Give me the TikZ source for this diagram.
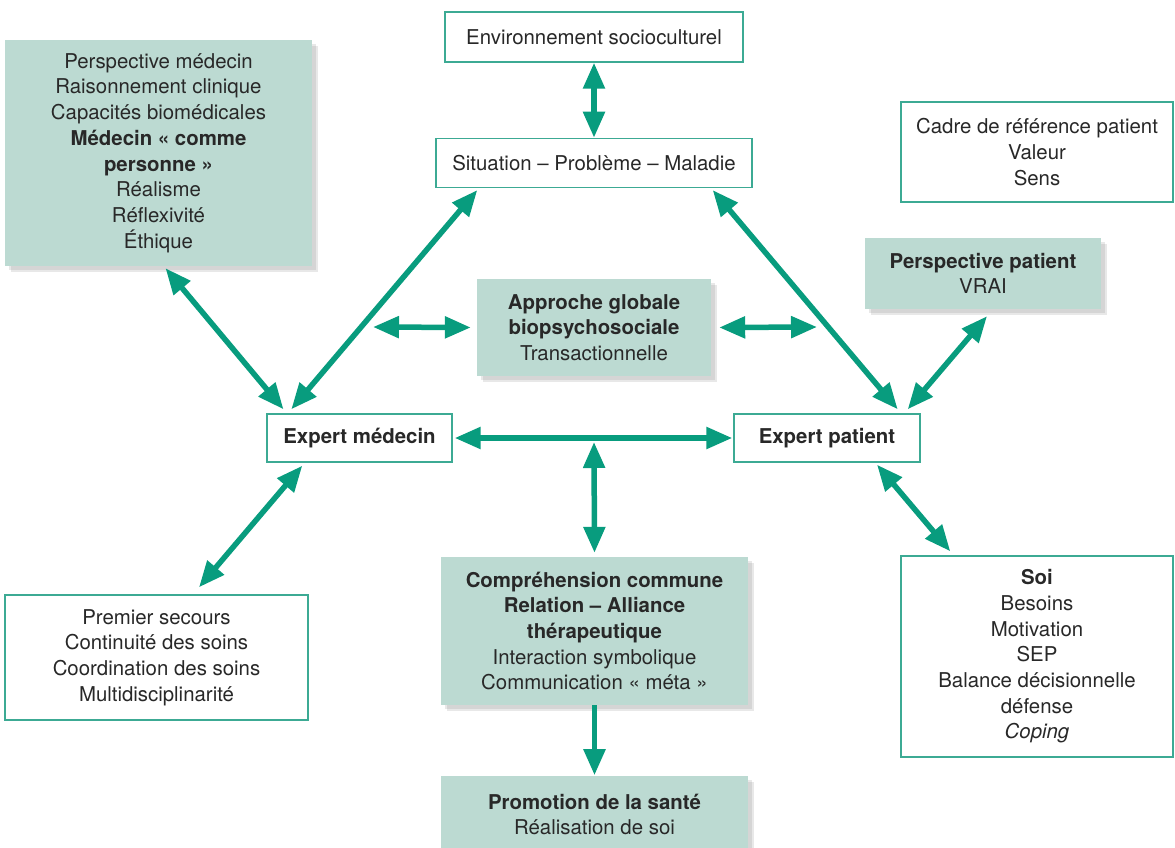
\documentclass[tikz,border=0pt]{standalone}
\usepackage{fontspec}
\setmainfont{TeX Gyre Heros}
\usetikzlibrary{arrows.meta}
\usetikzlibrary{shadows}
\usetikzlibrary{positioning}

\definecolor{arrowgreen}{RGB}{8,156,126}
\definecolor{boxline}{RGB}{60,170,148}
\definecolor{boxfill}{RGB}{188,218,210}
\definecolor{inktext}{RGB}{40,40,40}

\begin{document}
\begin{tikzpicture} [x = 1pt, y = -1pt,
    every node/.style = {font = \fontsize{20.4}{25.7}\selectfont, text = inktext,
        align = center, inner sep = 0pt},
    plain/.style = {draw = boxline, line width = 1.4pt, fill = white},
    shaded/.style = {fill = boxfill,
        drop shadow = {shadow xshift = 6pt, shadow yshift = -6pt,
            opacity = .15, fill = black!60},
        drop shadow = {shadow xshift = 4pt, shadow yshift = -4pt,
            opacity = .15, fill = black!60}},
    link/.style = {draw = arrowgreen, line width = 5.5pt,
        {Triangle[length = 26pt, width = 21pt]}-{Triangle[length = 26pt, width = 21pt]}},
    onelink/.style = {draw = arrowgreen, line width = 5.5pt,
        -{Triangle[length = 26pt, width = 21pt]}}]

\useasboundingbox (0,0) rectangle (1175,848);

% top column
\node (env) [plain, minimum width = 298pt, minimum height = 50pt] at (594,37)
    {Environnement socioculturel};
\node (sit) [plain, minimum width = 316pt, minimum height = 49pt, below = 75pt of env]
    {Situation -- Problème -- Maladie};

% left side
\node (persmed) [shaded, minimum width = 307pt, minimum height = 226pt] at (158.5,153)
    {Perspective médecin\\ Raisonnement clinique\\ Capacités biomédicales\\
     \textbf{Médecin « comme}\\ \textbf{personne »}\\ Réalisme\\ Réflexivité\\ Éthique};
\node (premier) [plain, minimum width = 303pt, minimum height = 125pt] at (156.5,657.5)
    {Premier secours\\ Continuité des soins\\ Coordination des soins\\ Multidisciplinarité};

% right side
\node (cadre) [plain, minimum width = 272pt, minimum height = 100pt] at (1037,152)
    {Cadre de référence patient\\ Valeur\\ Sens};
\node (perspat) [shaded, minimum width = 236pt, minimum height = 71pt] at (983,273.5)
    {\textbf{Perspective patient}\\ VRAI};
\node (soi) [plain, minimum width = 272pt, minimum height = 201pt] at (1037,656.5)
    {\textbf{Soi}\\ Besoins\\ Motivation\\ SEP\\ Balance décisionnelle\\ défense\\ \textit{Coping}};

% middle
\node (approche) [shaded, minimum width = 234pt, minimum height = 97pt] at (594,327.5)
    {\textbf{Approche globale}\\ \textbf{biopsychosociale}\\ Transactionnelle};
\node (expmed) [plain, minimum width = 185pt, minimum height = 48pt] at (359.5,438)
    {\textbf{Expert médecin}};
\node (exppat) [plain, minimum width = 186pt, minimum height = 48pt] at (827,438)
    {\textbf{Expert patient}};
\node (compr) [shaded, minimum width = 307pt, minimum height = 148pt] at (594.5,631)
    {\textbf{Compréhension commune}\\ \textbf{Relation -- Alliance}\\ \textbf{thérapeutique}\\
     Interaction symbolique\\ Communication « méta »};
\node (promo) [shaded, minimum width = 307pt, minimum height = 76pt, below = 71pt of compr]
    {\textbf{Promotion de la santé}\\ Réalisation de soi};

% free ends
\coordinate (gleft) at (373,327);
\coordinate (gright) at (817,327);
\coordinate (axis) at (594,442);

% arrows
\draw [link] (env.south) -- (sit.north);
\draw [link] ([xshift = 7pt, yshift = -2pt] persmed.south) -- ([xshift = -76pt, yshift = 4pt] expmed.north);
\draw [link] ([xshift = 42pt, yshift = -2pt] sit.south west) -- ([xshift = 25pt, yshift = 4pt] expmed.north west);
\draw [link] ([xshift = -40pt, yshift = -2pt] sit.south east) -- ([xshift = -23pt, yshift = 4pt] exppat.north east);
\draw [link] ([xshift = 4pt, yshift = -7pt] perspat.south) -- ([xshift = -13pt, yshift = 4pt] exppat.north east);
\draw [link] (gleft) -- ([xshift = -6pt] approche.west);
\draw [link] ([xshift = 8pt] approche.east) -- (gright);
\draw [link, shorten < = 2pt, shorten > = 1pt] (expmed.east) -- (exppat.west);
\draw [link] (axis) -- ([yshift = 4pt] compr.north);
\draw [link] ([xshift = 36pt, yshift = -3pt] expmed.south west) -- ([xshift = 42.5pt, yshift = 7pt] premier.north);
\draw [link] ([xshift = 50pt, yshift = -2pt] exppat.south) -- ([xshift = 50pt, yshift = 4pt] soi.north west);
\draw [onelink] (compr.south) -- ([yshift = 1pt] promo.north);

\end{tikzpicture}
\end{document}
